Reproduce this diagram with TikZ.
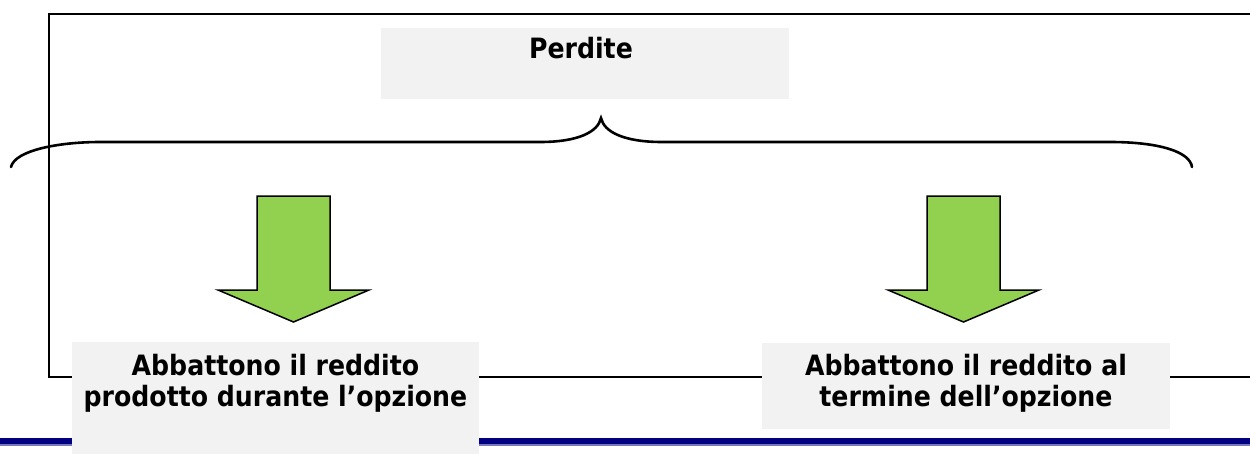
\documentclass[tikz,border=0pt]{standalone}
\usepackage{fontspec}
\setmainfont{DejaVu Sans Condensed}
\definecolor{boxgray}{HTML}{F2F2F2}
\definecolor{arrowgreen}{HTML}{92D050}
\definecolor{navy}{HTML}{000080}
\definecolor{lightnavy}{HTML}{7777BB}
\tikzset{
  graybox/.style={fill=boxgray, draw=none, inner sep=0pt, anchor=north west},
  txt/.style={font=\fontsize{28}{31}\selectfont\bfseries, inner sep=0pt, anchor=base},
  frame/.style={line width=2.6pt, black},
  bracepath/.style={line width=2.6pt, black, line cap=round},
  downarrow/.style={fill=arrowgreen, draw=black, line width=1.5pt, line join=miter}
}
\begin{document}
\begin{tikzpicture}[x=1pt, y=-1pt]
\useasboundingbox (0,0) rectangle (1250,453);
\begin{scope}
\clip (0,0) rectangle (1250,453);
% outer frame
\draw[frame] (1262,14) -- (49,14) -- (49,377) -- (1262,377);
% blue bottom rule
\fill[navy] (0,438) rectangle (1250,443.5);
\fill[lightnavy] (0,443.5) rectangle (1250,445.5);
\end{scope}
% title box
\node[graybox, minimum width=408pt, minimum height=71pt] (pbox) at (381,28) {};
\node[txt] (ptxt) at (581,58) {Perdite};
% brace
\coordinate (bl) at (11,167);
\coordinate (btip) at (601,118);
\coordinate (br) at (1192,167);
\draw[bracepath] (bl) .. controls (15,150) and (60,142) .. (100,142) -- (540,142)
  .. controls (578,142) and (598,132) .. (btip)
  .. controls (604,132) and (624,142) .. (662,142) -- (1110,142)
  .. controls (1160,142) and (1190,152) .. (br);
% arrows
\draw[downarrow] (257,196) -- (330,196) -- (330,290) -- (369,290) -- (293.5,322) -- (218,290) -- (257,290) -- cycle;
\draw[downarrow] (927,196) -- (1000,196) -- (1000,290) -- (1039,290) -- (963.5,322) -- (888,290) -- (927,290) -- cycle;
% bottom boxes
\node[graybox, minimum width=407pt, minimum height=112pt] (lbox) at (72,342) {};
\node[txt] (lt1) at (275.5,375) {Abbattono il reddito};
\node[txt] (lt2) at (275.5,406) {prodotto durante l’opzione};
\node[graybox, minimum width=408pt, minimum height=86pt] (rbox) at (762,343) {};
\node[txt] (rt1) at (966,375) {Abbattono il reddito al};
\node[txt] (rt2) at (966,406) {termine dell’opzione};
\end{tikzpicture}
\end{document}
